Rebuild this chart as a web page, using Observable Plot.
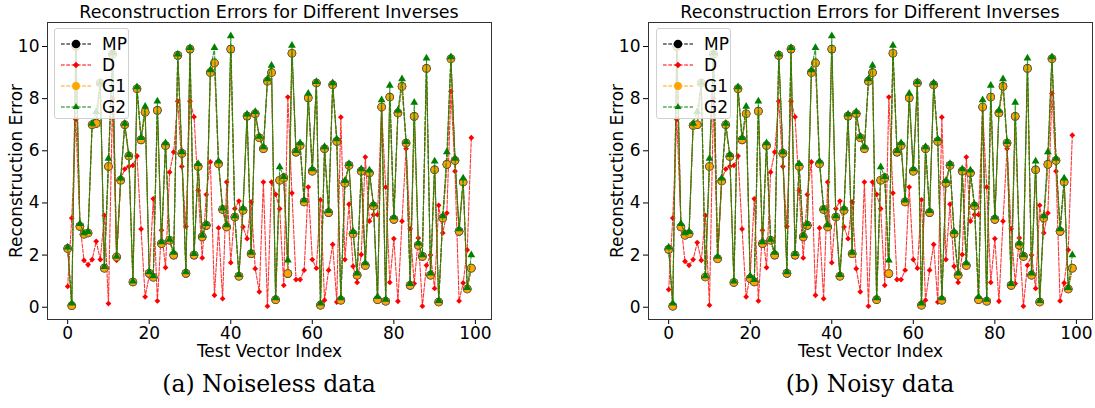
<!DOCTYPE html>
<html>
<head>
<meta charset="utf-8">
<script src="https://cdn.jsdelivr.net/npm/d3@7"></script>
<script src="https://cdn.jsdelivr.net/npm/@observablehq/plot@0.6"></script>
<style>
  html, body { margin: 0; padding: 0; background: #fff; }
  #root { position: relative; width: 1095px; height: 408px; overflow: hidden; font-family: "DejaVu Sans", sans-serif; }
  .panel { position: absolute; top: 0; }
  .panel > svg { position: absolute; left: 0; top: 0; }
  .title { position: absolute; top: 2px; font-size: 17.5px; line-height: 20px; text-align: center; color: #000; white-space: nowrap; }
  .caption { position: absolute; top: 370px; font-family: "DejaVu Serif", serif; font-size: 23.5px; line-height: 28px; text-align: center; color: #000; white-space: nowrap; }
  .legend { position: absolute; background: rgba(255,255,255,0.8); border: 1px solid #d0d0d0; border-radius: 3px; box-sizing: border-box; padding: 4px 2px 0 5px; }
  .legend .row { display: flex; align-items: center; height: 21px; font-size: 17px; color: #000; }
  .legend svg { margin-right: 10px; flex: none; }
</style>
</head>
<body>
<div id="root"></div>
<script>
// Test vector indices (x axis)
const indices = d3.range(100);

// Noiseless data: reconstruction error per test vector
const mpClean = [2.25,0.06,10.0,3.1,2.8,2.85,7.0,7.05,8.6,1.5,5.4,9.7,1.93,4.87,7.0,5.8,0.97,8.38,6.42,7.48,
  1.3,1.15,7.55,2.44,6.2,2.57,2.0,9.66,5.9,1.3,9.9,2.0,5.4,2.7,3.14,9.0,9.37,5.5,3.75,3.08,
  9.9,3.46,1.19,3.72,7.33,2.05,7.42,6.5,6.08,8.67,9.0,0.29,4.87,4.96,1.29,9.74,5.95,6.2,4.04,8.03,
  5.22,8.6,0.08,6.08,3.63,8.53,6.36,0.27,4.76,5.44,2.82,1.23,5.22,1.6,5.15,3.88,0.29,7.68,0.23,8.06,
  3.37,7.45,8.47,6.3,0.84,7.32,2.38,1.95,9.16,1.23,5.27,0.2,3.42,5.48,9.53,5.63,2.91,4.8,0.7,1.5];
const dClean = [0.8,3.42,7.2,3.2,1.8,1.63,1.83,2.53,1.83,3.52,0.14,8.0,1.8,4.9,5.3,5.4,5.44,5.8,3.0,0.4,
  1.2,4.16,0.24,2.95,1.52,5.18,5.95,7.9,5.4,3.1,7.9,7.3,4.48,1.89,4.32,5.57,0.46,3.04,0.33,4.8,
  1.71,3.78,4.07,3.08,2.63,4.04,1.48,0.59,4.8,0.04,4.8,4.33,3.78,0.84,8.06,4.38,1.06,1.06,1.42,4.61,
  1.83,1.5,4.12,0.27,1.42,2.41,0.2,7.29,1.83,3.95,1.57,0.95,2.02,5.76,3.3,3.55,3.55,7.57,4.61,0.95,
  2.63,0.23,3.3,6.08,3.01,0.91,2.66,0.04,1.61,2.0,0.72,3.91,2.85,3.61,8.28,5.22,0.24,0.93,2.2,6.5];
const g1Clean = [2.25,0.06,10.0,3.1,2.8,2.85,7.0,7.05,8.6,1.5,5.4,9.7,1.93,4.87,7.0,5.8,0.97,8.38,6.42,7.48,
  1.3,1.15,7.55,2.44,6.2,2.57,2.0,9.66,5.9,1.3,9.9,2.0,5.4,2.7,3.14,9.0,9.37,5.5,3.75,3.08,
  9.9,3.46,1.19,3.72,7.33,2.05,7.42,6.5,6.08,8.67,9.0,0.29,4.87,4.96,1.29,9.74,5.95,6.2,4.04,8.03,
  5.22,8.6,0.08,6.08,3.63,8.53,6.36,0.27,4.76,5.44,2.82,1.23,5.22,1.6,5.15,3.88,0.29,7.68,0.23,8.06,
  3.37,7.45,8.47,6.3,0.84,7.32,2.38,1.95,9.16,1.23,5.27,0.2,3.42,5.48,9.53,5.63,2.91,4.8,0.7,1.5];
const g2Clean = [2.3,0.15,10.1,3.2,2.85,2.9,7.05,7.5,8.6,1.55,5.7,9.75,1.95,4.95,7.05,5.85,1.0,8.45,6.5,7.7,
  1.35,1.2,7.9,2.5,6.3,2.6,2.1,9.7,5.95,1.35,9.95,2.05,5.5,2.75,3.2,9.1,9.95,5.6,3.8,3.15,
  10.4,3.5,1.25,3.8,7.4,2.1,7.5,6.55,6.15,8.75,9.27,0.35,5.38,5.0,1.8,10.04,6.0,6.3,4.1,8.2,
  5.3,8.65,0.15,6.15,3.7,8.6,6.45,0.35,4.85,5.5,2.9,1.3,5.3,1.7,5.25,3.95,0.4,7.95,0.3,8.5,
  3.45,7.55,8.75,6.35,0.9,7.85,2.45,2.0,9.55,1.3,5.6,0.25,3.5,5.95,9.6,5.7,3.0,4.95,0.75,2.0];

// Noisy data: reconstruction error per test vector
const mpNoisy = [2.22,0.04,10.0,3.08,2.76,2.82,6.97,7.0,8.6,1.16,5.4,9.7,1.86,4.84,7.0,5.78,0.95,8.38,6.42,7.42,
  1.1,0.97,7.52,2.44,6.2,2.57,2.0,9.66,5.9,1.3,9.9,2.0,5.4,2.7,3.14,9.0,9.37,5.5,3.75,3.08,
  9.9,3.46,1.19,3.72,7.33,2.05,7.42,6.5,6.08,8.67,9.0,0.29,4.87,4.96,1.29,9.74,5.95,6.2,4.04,8.03,
  5.22,8.6,0.08,6.08,3.63,8.53,6.36,0.27,4.76,5.44,2.82,1.23,5.22,1.6,5.15,3.88,0.29,7.68,0.23,8.06,
  3.37,7.45,8.47,6.3,0.84,7.32,2.38,1.95,9.16,1.23,5.27,0.2,3.42,5.48,9.53,5.63,2.91,4.8,0.7,1.5];
const dNoisy = [0.68,3.42,7.2,3.2,1.76,1.61,1.83,2.48,1.8,3.52,0.08,8.0,1.8,4.9,5.3,5.4,5.44,5.8,3.0,0.4,
  1.2,4.16,0.24,2.95,1.52,5.18,5.95,7.9,5.4,3.1,7.9,7.3,4.48,1.89,4.32,5.57,0.46,3.04,0.33,4.8,
  1.71,3.78,4.07,3.08,2.63,4.04,1.48,0.59,4.8,0.04,4.8,4.33,3.78,0.84,8.06,4.38,1.06,1.06,1.42,4.61,
  1.83,1.5,4.12,0.27,1.42,2.41,0.2,7.29,1.83,3.95,1.57,0.95,2.02,5.76,3.3,3.55,3.55,7.57,4.61,0.95,
  2.63,0.23,3.3,6.08,3.01,0.91,2.66,0.04,1.61,2.0,0.72,3.91,2.85,3.61,8.2,5.22,0.24,0.93,2.2,6.6];
const g1Noisy = [2.22,0.04,10.0,3.08,2.76,2.82,6.97,7.0,8.6,1.16,5.4,9.7,1.86,4.84,7.0,5.78,0.95,8.38,6.42,7.42,
  1.1,0.97,7.52,2.44,6.2,2.57,2.0,9.66,5.9,1.3,9.9,2.0,5.4,2.7,3.14,9.0,9.37,5.5,3.75,3.08,
  9.9,3.46,1.19,3.72,7.33,2.05,7.42,6.5,6.08,8.67,9.0,0.29,4.87,4.96,1.29,9.74,5.95,6.2,4.04,8.03,
  5.22,8.6,0.08,6.08,3.63,8.53,6.36,0.27,4.76,5.44,2.82,1.23,5.22,1.6,5.15,3.88,0.29,7.68,0.23,8.06,
  3.37,7.45,8.47,6.3,0.84,7.32,2.38,1.95,9.16,1.23,5.27,0.2,3.42,5.48,9.53,5.63,2.91,4.8,0.7,1.5];
const g2Noisy = [2.3,0.15,10.1,3.2,2.85,2.9,7.05,7.5,8.6,1.2,5.7,9.75,1.95,4.95,7.05,5.85,1.0,8.45,6.5,7.7,
  1.2,1.05,7.9,2.5,6.3,2.6,2.1,9.7,5.95,1.35,9.95,2.05,5.5,2.75,3.2,9.1,9.95,5.6,3.8,3.15,
  10.4,3.5,1.25,3.8,7.4,2.1,7.5,6.55,6.15,8.75,9.27,0.35,5.38,5.0,1.8,10.04,6.0,6.3,4.1,8.2,
  5.3,8.65,0.15,6.15,3.7,8.6,6.45,0.35,4.85,5.5,2.9,1.3,5.3,1.7,5.25,3.95,0.4,7.95,0.3,8.5,
  3.45,7.55,8.75,6.35,0.9,7.85,2.45,2.0,9.55,1.3,5.6,0.25,3.5,5.95,9.6,5.7,3.0,4.95,0.75,2.0];

const xTicks = [0, 20, 40, 60, 80, 100];
const yTicks = [0, 2, 4, 6, 8, 10];
const titleText = "Reconstruction Errors for Different Inverses";
const xLabel = "Test Vector Index";
const yLabel = "Reconstruction Error";

// Series styling: name, colour, marker
const series = [
  {key: "mp", name: "MP", color: "black",  symbol: "circle",   r: 4.3},
  {key: "d",  name: "D",  color: "red",    symbol: "diamond2", r: 2.6},
  {key: "g1", name: "G1", color: "orange", symbol: "circle",   r: 3.9},
  {key: "g2", name: "G2", color: "green",  symbol: "triangle", r: 2.9}
];
const dash = "3.7,1.6";

function table(mp, d, g1, g2) {
  return indices.map((i) => ({i, mp: mp[i], d: d[i], g1: g1[i], g2: g2[i]}));
}

function chart(rows, opts) {
  const marks = [];
  for (const s of series) {
    marks.push(Plot.line(rows, {x: "i", y: s.key, stroke: s.color, strokeWidth: 1.1,
      strokeDasharray: dash, strokeOpacity: s.key === "mp" ? 1 : 0.8}));
    marks.push(Plot.dot(rows, {x: "i", y: s.key, symbol: s.symbol, r: s.r, fill: s.color,
      stroke: s.key === "g1" ? "#555" : "none", strokeWidth: 0.6}));
  }
  return Plot.plot({
    width: opts.width,
    height: 380,
    marginLeft: opts.marginLeft,
    marginRight: opts.marginRight,
    marginTop: 22,
    marginBottom: 61,
    style: {fontFamily: "DejaVu Sans, sans-serif", fontSize: "17px", color: "black", background: "transparent"},
    x: {domain: [-4.95, 103.95]},
    y: {domain: [-0.47, 10.92]},
    marks: [
      Plot.axisX({ticks: xTicks, tickSize: 5, tickPadding: 2, fontSize: 17, label: xLabel,
        labelAnchor: "center", labelArrow: "none", labelOffset: 37}),
      Plot.axisY({ticks: yTicks, tickSize: 5, tickPadding: 3, fontSize: 17, label: yLabel,
        labelAnchor: "center", labelArrow: "none", labelOffset: 38}),
      ...marks,
      Plot.frame({stroke: "#333", strokeWidth: 1})
    ]
  });
}

function legend(left, top) {
  const box = document.createElement("div");
  box.className = "legend";
  box.style.left = left + "px";
  box.style.top = top + "px";
  box.style.width = "75px";
  box.style.height = "91px";
  for (const s of series) {
    const row = document.createElement("div");
    row.className = "row";
    const sw = d3.create("svg").attr("width", 32).attr("height", 14);
    sw.append("line").attr("x1", 1).attr("x2", 31).attr("y1", 7).attr("y2", 7)
      .attr("stroke", s.color).attr("stroke-width", 1.1).attr("stroke-dasharray", dash);
    const sym = d3.symbol(s.symbol === "circle" ? d3.symbolCircle : s.symbol === "triangle" ? d3.symbolTriangle2 : d3.symbolDiamond2,
      Math.PI * s.r * s.r * (s.symbol === "circle" ? 1 : 1.3));
    sw.append("path").attr("d", sym()).attr("transform", "translate(16,7)").attr("fill", s.color);
    row.appendChild(sw.node());
    const t = document.createElement("span");
    t.textContent = s.name;
    row.appendChild(t);
    box.appendChild(row);
  }
  return box;
}

function panel(rows, left, width, marginLeft, marginRight, caption, legendLeft) {
  const root = document.getElementById("root");
  const p = document.createElement("div");
  p.className = "panel";
  p.style.left = left + "px";
  p.style.width = width + "px";
  p.style.height = "408px";
  p.appendChild(chart(rows, {width, marginLeft, marginRight}));
  const frameLeft = marginLeft, frameWidth = width - marginLeft - marginRight;
  const t = document.createElement("div");
  t.className = "title";
  t.style.left = (frameLeft - 40) + "px";
  t.style.width = (frameWidth + 80) + "px";
  t.textContent = titleText;
  p.appendChild(t);
  const c = document.createElement("div");
  c.className = "caption";
  c.style.left = (frameLeft - 20) + "px";
  c.style.width = (frameWidth + 40) + "px";
  c.textContent = caption;
  p.appendChild(c);
  p.appendChild(legend(legendLeft, 28));
  root.appendChild(p);
}

panel(table(mpClean, dClean, g1Clean, g2Clean), 0, 500, 47, 9, "(a) Noiseless data", 54);
panel(table(mpNoisy, dNoisy, g1Noisy, g2Noisy), 600, 495, 48, 3, "(b) Noisy data", 56);
</script>
</body>
</html>
